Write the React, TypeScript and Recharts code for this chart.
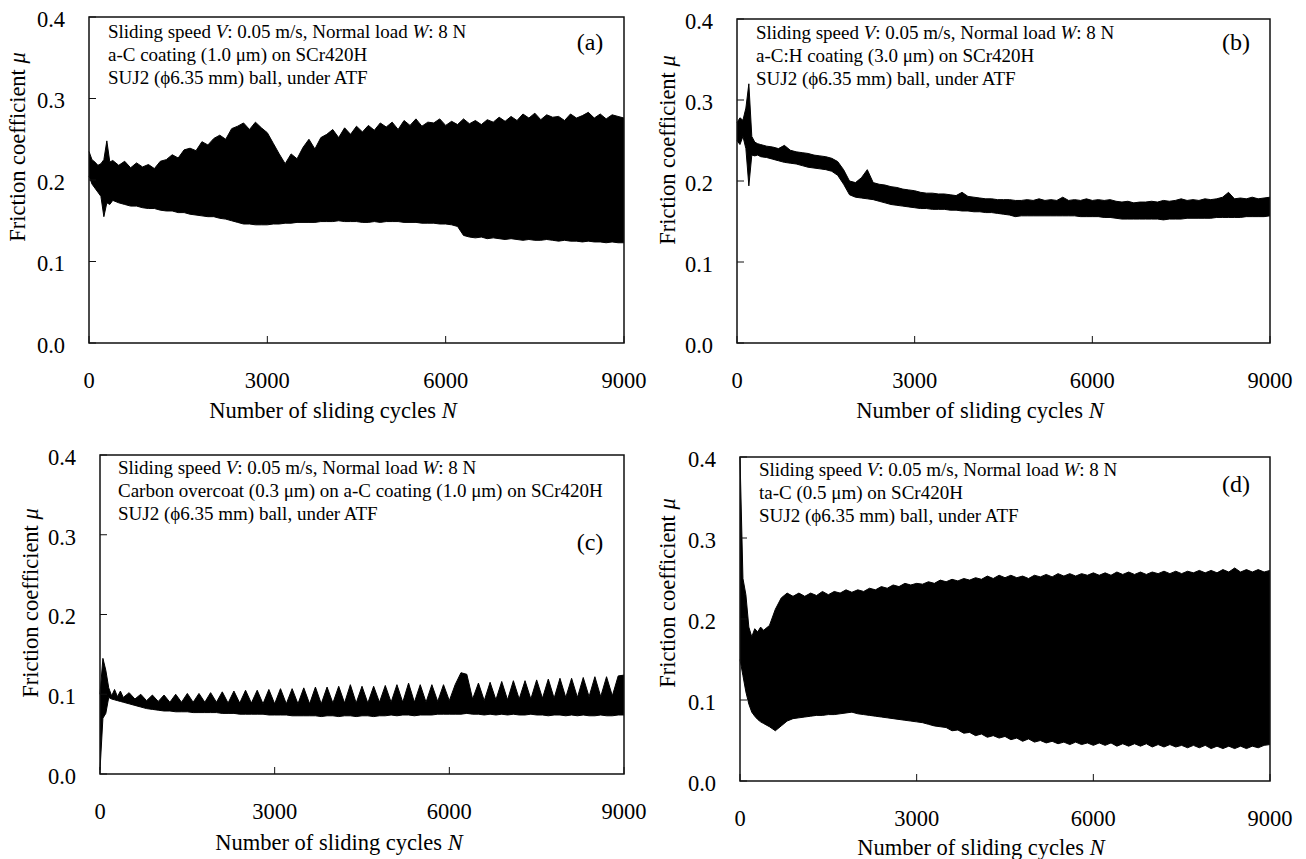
import React from "react";
import { Area, AreaChart, Label, ReferenceArea, XAxis, YAxis } from "recharts";

// sliding cycles sampled for every panel
const cycles = [
  0, 50, 100, 150, 200, 250, 300, 350, 400,
  500, 600, 700, 800, 900, 1000, 1100, 1200, 1300, 1400,
  1500, 1600, 1700, 1800, 1900, 2000, 2100, 2200, 2300, 2400,
  2500, 2600, 2700, 2800, 2900, 3000, 3100, 3200, 3300, 3400,
  3500, 3600, 3700, 3800, 3900, 4000, 4100, 4200, 4300, 4400,
  4500, 4600, 4700, 4800, 4900, 5000, 5100, 5200, 5300, 5400,
  5500, 5600, 5700, 5800, 5900, 6000, 6100, 6200, 6300, 6400,
  6500, 6600, 6700, 6800, 6900, 7000, 7100, 7200, 7300, 7400,
  7500, 7600, 7700, 7800, 7900, 8000, 8100, 8200, 8300, 8400,
  8500, 8600, 8700, 8800, 8900, 9000
];

// (a) a-C coating: lower / upper edge of the friction trace
const lowerA = [
  0.205, 0.195, 0.19, 0.185, 0.18, 0.155, 0.172, 0.17, 0.175,
  0.172, 0.17, 0.168, 0.168, 0.166, 0.165, 0.165, 0.163, 0.162, 0.162,
  0.16, 0.16, 0.158, 0.157, 0.156, 0.155, 0.155, 0.153, 0.152, 0.15,
  0.148, 0.146, 0.146, 0.145, 0.145, 0.145, 0.146, 0.146, 0.147, 0.147,
  0.148, 0.148, 0.148, 0.148, 0.149, 0.149, 0.149, 0.15, 0.149, 0.149,
  0.149, 0.148, 0.148, 0.149, 0.148, 0.149, 0.149, 0.149, 0.148, 0.148,
  0.148, 0.147, 0.147, 0.147, 0.146, 0.146, 0.145, 0.143, 0.132, 0.13,
  0.129, 0.13, 0.128, 0.129, 0.128, 0.127, 0.128, 0.127, 0.126, 0.127,
  0.126, 0.126, 0.127, 0.126, 0.125, 0.126, 0.125, 0.125, 0.124, 0.125,
  0.124, 0.124, 0.123, 0.124, 0.123, 0.123
];
const upperA = [
  0.235, 0.225, 0.222, 0.218, 0.22, 0.225, 0.248, 0.222, 0.224,
  0.218, 0.223, 0.215, 0.221, 0.216, 0.219, 0.214, 0.223, 0.225, 0.231,
  0.227, 0.237, 0.239, 0.236, 0.247, 0.243, 0.251, 0.255, 0.25, 0.263,
  0.266, 0.27, 0.262, 0.271, 0.264, 0.258, 0.245, 0.232, 0.22, 0.232,
  0.226, 0.24, 0.25, 0.238, 0.252, 0.256, 0.262, 0.252, 0.264, 0.256,
  0.266, 0.259, 0.267, 0.261, 0.27, 0.265, 0.271, 0.262, 0.273, 0.267,
  0.275, 0.266, 0.271, 0.27, 0.275, 0.267, 0.272, 0.268, 0.275, 0.269,
  0.273, 0.268, 0.274, 0.271, 0.277, 0.272, 0.278, 0.273, 0.281, 0.276,
  0.282, 0.274, 0.28, 0.277, 0.278, 0.273, 0.281, 0.276, 0.279, 0.283,
  0.276, 0.281, 0.275, 0.28, 0.278, 0.276
];

// (b) a-C:H coating
const lowerB = [
  0.25, 0.245, 0.255, 0.24, 0.194, 0.232, 0.231, 0.232, 0.23,
  0.229, 0.227, 0.225, 0.223, 0.222, 0.221, 0.219, 0.217, 0.216, 0.215,
  0.214, 0.212, 0.207, 0.196, 0.183, 0.18, 0.179, 0.178, 0.177, 0.175,
  0.173, 0.171, 0.17, 0.169, 0.168, 0.167, 0.166, 0.166, 0.165, 0.165,
  0.165, 0.164, 0.164, 0.163, 0.163, 0.162, 0.162, 0.161, 0.161, 0.16,
  0.159, 0.158, 0.156, 0.157, 0.157, 0.157, 0.157, 0.157, 0.157, 0.157,
  0.157, 0.157, 0.157, 0.156, 0.156, 0.156, 0.156, 0.155, 0.155, 0.154,
  0.153, 0.153, 0.153, 0.153, 0.153, 0.153, 0.153, 0.152, 0.153, 0.153,
  0.153, 0.154, 0.154, 0.154, 0.154, 0.154, 0.155, 0.155, 0.155, 0.155,
  0.155, 0.156, 0.156, 0.156, 0.156, 0.157
];
const upperB = [
  0.272, 0.278, 0.275, 0.29, 0.32, 0.255, 0.248, 0.246, 0.245,
  0.243, 0.242, 0.24, 0.244, 0.238, 0.236, 0.235, 0.234, 0.232, 0.231,
  0.23, 0.228, 0.224, 0.214, 0.2, 0.198, 0.204, 0.214, 0.198, 0.196,
  0.195, 0.193, 0.192, 0.19, 0.189, 0.188, 0.186, 0.185, 0.185, 0.184,
  0.184, 0.183, 0.182, 0.186, 0.181, 0.18, 0.179, 0.178, 0.178, 0.177,
  0.177, 0.177, 0.176, 0.176, 0.177, 0.176, 0.178, 0.176, 0.177, 0.176,
  0.18, 0.176, 0.177, 0.176, 0.178, 0.176, 0.177, 0.176, 0.177, 0.175,
  0.174, 0.175, 0.173, 0.174, 0.174, 0.175, 0.174, 0.176, 0.175, 0.176,
  0.178, 0.176, 0.177, 0.176, 0.178, 0.177, 0.178, 0.18, 0.186, 0.178,
  0.179, 0.178, 0.18, 0.178, 0.179, 0.18
];

// (c) carbon overcoat on a-C
const lowerC = [
  0.005, 0.07, 0.076, 0.096, 0.094, 0.093, 0.092, 0.091, 0.09,
  0.088, 0.086, 0.084, 0.082, 0.081, 0.08, 0.079, 0.079, 0.078, 0.078,
  0.078, 0.077, 0.077, 0.077, 0.077, 0.077, 0.076, 0.076, 0.076, 0.075,
  0.075, 0.075, 0.075, 0.075, 0.074, 0.074, 0.074, 0.074, 0.073, 0.073,
  0.073, 0.073, 0.073, 0.072, 0.073, 0.073, 0.072, 0.073, 0.073, 0.072,
  0.073, 0.073, 0.072, 0.073, 0.073, 0.074, 0.073, 0.074, 0.074, 0.073,
  0.074, 0.074, 0.074, 0.075, 0.075, 0.075, 0.075, 0.075, 0.076, 0.075,
  0.075, 0.074, 0.075, 0.074, 0.075, 0.074, 0.075, 0.074, 0.074, 0.075,
  0.074, 0.074, 0.073, 0.074, 0.074, 0.073, 0.074, 0.073, 0.074, 0.073,
  0.073, 0.074, 0.073, 0.073, 0.074, 0.074
];
const upperC = [
  0.1, 0.145, 0.13, 0.108, 0.098, 0.106, 0.097, 0.104, 0.096,
  0.102, 0.094, 0.1, 0.092, 0.099, 0.091, 0.099, 0.09, 0.1, 0.09,
  0.101, 0.09, 0.101, 0.09, 0.102, 0.09, 0.103, 0.089, 0.104, 0.089,
  0.105, 0.089, 0.105, 0.088, 0.106, 0.088, 0.107, 0.088, 0.107, 0.088,
  0.108, 0.088, 0.109, 0.088, 0.109, 0.089, 0.11, 0.089, 0.112, 0.089,
  0.11, 0.089, 0.11, 0.09, 0.111, 0.09, 0.112, 0.09, 0.114, 0.09,
  0.112, 0.09, 0.112, 0.091, 0.112, 0.092, 0.112, 0.127, 0.125, 0.094,
  0.114, 0.092, 0.115, 0.093, 0.116, 0.093, 0.117, 0.094, 0.117, 0.094,
  0.118, 0.095, 0.119, 0.095, 0.12, 0.096, 0.12, 0.096, 0.121, 0.097,
  0.122, 0.097, 0.122, 0.098, 0.123, 0.124
];

// (d) ta-C
const lowerD = [
  0.15, 0.13, 0.11, 0.095, 0.085, 0.08, 0.076, 0.073, 0.071,
  0.067, 0.062, 0.068, 0.074, 0.077, 0.078, 0.079, 0.08, 0.081, 0.081,
  0.082, 0.082, 0.083, 0.084, 0.085, 0.083, 0.082, 0.081, 0.08, 0.079,
  0.078, 0.077, 0.076, 0.075, 0.074, 0.073, 0.072, 0.07, 0.068, 0.067,
  0.066, 0.062, 0.063, 0.059, 0.06, 0.056, 0.058, 0.054, 0.056, 0.053,
  0.055, 0.051, 0.053, 0.049, 0.052, 0.048, 0.05, 0.047, 0.049, 0.046,
  0.048, 0.045, 0.048, 0.045, 0.047, 0.044, 0.047, 0.044, 0.047, 0.043,
  0.046, 0.043, 0.046, 0.043, 0.046, 0.042, 0.045, 0.042, 0.045, 0.042,
  0.044, 0.041, 0.044, 0.041, 0.044, 0.04, 0.043, 0.04, 0.043, 0.04,
  0.043, 0.04, 0.043, 0.041, 0.044, 0.045
];
const upperD = [
  0.4, 0.25, 0.23, 0.19, 0.178, 0.188, 0.184, 0.19, 0.186,
  0.192, 0.212, 0.226, 0.232, 0.228, 0.232, 0.228, 0.232, 0.229, 0.234,
  0.23, 0.234, 0.232, 0.236, 0.233, 0.236, 0.234, 0.238, 0.236, 0.24,
  0.238, 0.242, 0.24, 0.244, 0.242, 0.244, 0.243, 0.246, 0.244, 0.248,
  0.246, 0.249, 0.247, 0.25, 0.248, 0.251, 0.249, 0.253, 0.25, 0.254,
  0.251, 0.254, 0.251, 0.253, 0.25, 0.254, 0.252, 0.255, 0.252, 0.256,
  0.253, 0.256, 0.253, 0.256, 0.254, 0.257, 0.254, 0.257, 0.254, 0.258,
  0.255, 0.258, 0.255, 0.258, 0.255, 0.258, 0.256, 0.259, 0.256, 0.259,
  0.256, 0.259, 0.257, 0.26, 0.257, 0.26, 0.257, 0.261, 0.258, 0.263,
  0.258, 0.261, 0.258, 0.261, 0.258, 0.26
];

const muTicks = [0, 0.1, 0.2, 0.3, 0.4];
const cycleTicks = [0, 3000, 6000, 9000];

const serif = '"Liberation Serif", "Times New Roman", Times, serif';
const ink = "#111";
const textStyle = { fontFamily: serif };

type Plot = { x: number; y: number; w: number; h: number };

type PanelProps = {
  lower: number[];
  upper: number[];
  left: number;
  top: number;
  width: number;
  height: number;
  plot: Plot;
  xTitle: [number, number];
  yTitle: [number, number];
};

function CycleTick(props: any) {
  const { x, y, payload } = props;
  return (
    <text x={x} y={y} dy="0.71em" textAnchor="middle" fontSize={22.5} fill="#000" style={textStyle}>
      {payload.value}
    </text>
  );
}

function MuTick(props: any) {
  const { x, y, payload } = props;
  return (
    <text x={x} y={y + 2} dy="0.355em" textAnchor="end" fontSize={22.5} fill="#000" style={textStyle}>
      {Number(payload.value).toFixed(1)}
    </text>
  );
}

function FrictionPanel({ lower, upper, left, top, width, height, plot, xTitle, yTitle }: PanelProps) {
  const data = cycles.map((n, i) => ({ n, band: [lower[i], upper[i]] }));

  return (
    <div style={{ position: "absolute", left, top }}>
      <AreaChart
        width={width}
        height={height}
        data={data}
        margin={{ top: plot.y, right: width - plot.x - plot.w, bottom: 0, left: 0 }}
      >
        <XAxis
          type="number"
          dataKey="n"
          domain={[0, 9000]}
          ticks={cycleTicks}
          height={height - plot.y - plot.h}
          axisLine={false}
          tickLine={{ stroke: ink }}
          tickSize={-7}
          tickMargin={36}
          tick={<CycleTick />}
        >
          <Label
            content={() => (
              <text x={xTitle[0]} y={xTitle[1]} textAnchor="middle" fontSize={22.5} fill="#000" style={textStyle}>
                Number of sliding cycles <tspan fontStyle="italic">N</tspan>
              </text>
            )}
          />
        </XAxis>
        <YAxis
          type="number"
          domain={[0, 0.4]}
          ticks={muTicks}
          width={plot.x}
          axisLine={false}
          tickLine={{ stroke: ink }}
          tickSize={-7}
          tickMargin={31}
          tick={<MuTick />}
        >
          <Label
            content={() => (
              <text
                x={yTitle[0]}
                y={yTitle[1]}
                transform={`rotate(-90 ${yTitle[0]} ${yTitle[1]})`}
                textAnchor="middle"
                fontSize={22.5}
                fill="#000"
                style={textStyle}
              >
                Friction coefficient <tspan fontStyle="italic">μ</tspan>
              </text>
            )}
          />
        </YAxis>
        <Area
          type="linear"
          dataKey="band"
          stroke="#000"
          strokeWidth={1}
          fill="#000"
          fillOpacity={1}
          dot={false}
          activeDot={false}
          isAnimationActive={false}
        />
        <ReferenceArea x1={0} x2={9000} y1={0} y2={0.4} fill="none" stroke={ink} strokeWidth={1.5} ifOverflow="visible" />
      </AreaChart>
    </div>
  );
}

type Note = { x: number; y: number; tag: string; tagX: number; tagY: number; second: string };

const notes: Note[] = [
  { x: 108, y: 38, tag: "(a)", tagX: 590, tagY: 50, second: "a-C coating (1.0 μm) on SCr420H" },
  { x: 756, y: 39, tag: "(b)", tagX: 1236, tagY: 50, second: "a-C:H coating (3.0 μm) on SCr420H" },
  { x: 118, y: 474, tag: "(c)", tagX: 590, tagY: 550, second: "Carbon overcoat (0.3 μm) on a-C coating (1.0 μm) on SCr420H" },
  { x: 759, y: 476, tag: "(d)", tagX: 1236, tagY: 492, second: "ta-C (0.5 μm) on SCr420H" }
];

export default function App() {
  return (
    <div
      style={{
        position: "absolute",
        left: 0,
        top: 0,
        width: 1306,
        height: 859,
        background: "#fff",
        overflow: "hidden",
        fontFamily: serif
      }}
    >
      <FrictionPanel
        lower={lowerA}
        upper={upperA}
        left={0}
        top={0}
        width={653}
        height={430}
        plot={{ x: 89, y: 17, w: 535, h: 326 }}
        xTitle={[333, 418]}
        yTitle={[25, 147]}
      />
      <FrictionPanel
        lower={lowerB}
        upper={upperB}
        left={653}
        top={0}
        width={653}
        height={430}
        plot={{ x: 84, y: 19, w: 533, h: 324 }}
        xTitle={[327, 418]}
        yTitle={[22, 150]}
      />
      <FrictionPanel
        lower={lowerC}
        upper={upperC}
        left={0}
        top={430}
        width={653}
        height={429}
        plot={{ x: 100, y: 25, w: 524, h: 319 }}
        xTitle={[339, 420]}
        yTitle={[38, 173]}
      />
      <FrictionPanel
        lower={lowerD}
        upper={upperD}
        left={653}
        top={430}
        width={653}
        height={429}
        plot={{ x: 87, y: 27, w: 530, h: 324 }}
        xTitle={[328, 425]}
        yTitle={[22, 163]}
      />
      <svg width={1306} height={859} style={{ position: "absolute", left: 0, top: 0, pointerEvents: "none" }}>
        {notes.map((note) => (
          <g key={note.tag} fill="#000" style={textStyle}>
            <text x={note.x} y={note.y} fontSize={19}>
              Sliding speed <tspan fontStyle="italic">V</tspan>: 0.05 m/s, Normal load <tspan fontStyle="italic">W</tspan>: 8 N
            </text>
            <text x={note.x} y={note.y + 23} fontSize={19}>
              {note.second}
            </text>
            <text x={note.x} y={note.y + 46} fontSize={19}>
              SUJ2 (ϕ6.35 mm) ball, under ATF
            </text>
            <text x={note.tagX} y={note.tagY} fontSize={24} textAnchor="middle">
              {note.tag}
            </text>
          </g>
        ))}
      </svg>
    </div>
  );
}
